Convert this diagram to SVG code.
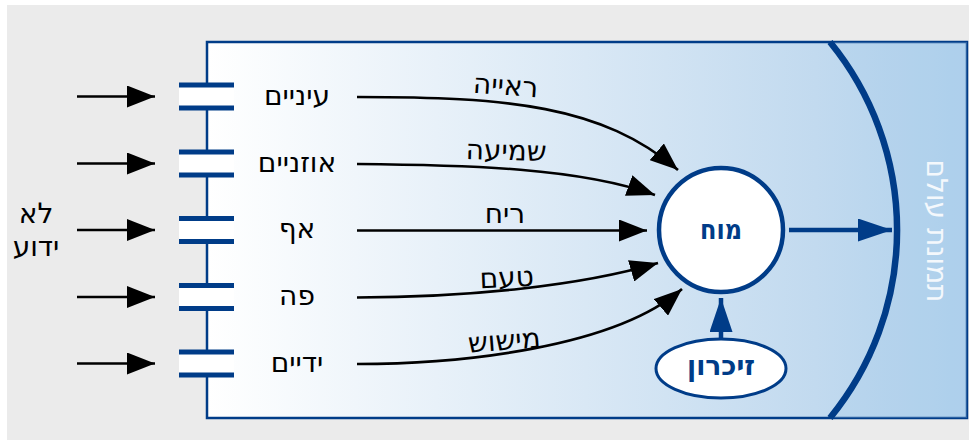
<svg xmlns="http://www.w3.org/2000/svg" width="969" height="441" viewBox="0 0 969 441">
<defs>
<style>
.lbl{font-family:"DejaVu Sans",sans-serif;font-size:28px;fill:#000;text-anchor:middle}
.blbl{font-family:"DejaVu Sans",sans-serif;font-size:28px;font-weight:bold;fill:#003c88;text-anchor:middle}
.bar{stroke:#003c88;stroke-width:5}
.ln{fill:none;stroke:#000;stroke-width:2.6}
.bl{fill:none;stroke:#003c88;stroke-width:4.5}
</style>
<linearGradient id="bg" gradientUnits="userSpaceOnUse" x1="207" y1="0" x2="967" y2="0">
<stop offset="0" stop-color="#ffffff"/>
<stop offset="0.8" stop-color="#c2daef"/>
<stop offset="1" stop-color="#afd1ec"/>
</linearGradient>
<marker id="ah" markerUnits="userSpaceOnUse" markerWidth="28" markerHeight="22" refX="28" refY="11" orient="auto">
<path d="M0,0 L28,11 L0,22 z" fill="#000"/>
</marker>
<marker id="bh" markerUnits="userSpaceOnUse" markerWidth="34" markerHeight="23" refX="34" refY="11.5" orient="auto">
<path d="M0,0 L34,11.5 L0,23 z" fill="#003c88"/>
</marker>
</defs>
<rect x="7" y="5" width="962" height="435" fill="#ebebeb"/>
<g id="frame">
<rect x="207" y="42" width="760" height="376" fill="url(#bg)" stroke="#003c88" stroke-width="2.5"/>
<path d="M830,42 A297,297 0 0 1 830,418 L967,418 L967,42 z" fill="#a9cdea" opacity="0.25"/>
<path d="M830,42 A297,297 0 0 1 830,418" fill="none" stroke="#003c88" stroke-width="6.5"/>
<text transform="translate(927,231) rotate(90)" font-family="DejaVu Sans, sans-serif" font-size="29" fill="#f4f8fc" text-anchor="middle" textLength="143" lengthAdjust="spacingAndGlyphs">תמונת עולם</text>
</g>
<g id="gates">
<g id="gate1"><rect x="179" y="85" width="55" height="23" fill="#fff"/><line class="bar" x1="179" y1="85" x2="234" y2="85"/><line class="bar" x1="179" y1="108" x2="234" y2="108"/></g>
<g id="gate2"><rect x="179" y="152" width="55" height="23" fill="#fff"/><line class="bar" x1="179" y1="152" x2="234" y2="152"/><line class="bar" x1="179" y1="175" x2="234" y2="175"/></g>
<g id="gate3"><rect x="179" y="218.5" width="55" height="23" fill="#fff"/><line class="bar" x1="179" y1="218.5" x2="234" y2="218.5"/><line class="bar" x1="179" y1="241.5" x2="234" y2="241.5"/></g>
<g id="gate4"><rect x="179" y="285.5" width="55" height="23" fill="#fff"/><line class="bar" x1="179" y1="285.5" x2="234" y2="285.5"/><line class="bar" x1="179" y1="308.5" x2="234" y2="308.5"/></g>
<g id="gate5"><rect x="179" y="352" width="55" height="23" fill="#fff"/><line class="bar" x1="179" y1="352" x2="234" y2="352"/><line class="bar" x1="179" y1="375" x2="234" y2="375"/></g>
</g>
<g id="unknown"><text class="lbl" x="36" y="223">לא</text><text class="lbl" x="36" y="256">ידוע</text></g>
<g id="eyes"><text class="lbl" x="297" y="105">עיניים</text></g>
<g id="ears"><text class="lbl" x="297" y="172">אוזניים</text></g>
<g id="nose"><text class="lbl" x="297" y="238">אף</text></g>
<g id="mouth"><text class="lbl" x="297" y="305">פה</text></g>
<g id="hands"><text class="lbl" x="297" y="372">ידיים</text></g>
<g id="connectors">
<line class="ln" x1="77" y1="96.5" x2="155" y2="96.5" marker-end="url(#ah)"/>
<line class="ln" x1="77" y1="163.5" x2="155" y2="163.5" marker-end="url(#ah)"/>
<line class="ln" x1="77" y1="230" x2="155" y2="230" marker-end="url(#ah)"/>
<line class="ln" x1="77" y1="297" x2="155" y2="297" marker-end="url(#ah)"/>
<line class="ln" x1="77" y1="363.5" x2="155" y2="363.5" marker-end="url(#ah)"/>
<path class="ln" d="M357,97 C507,97 602,105 678,170" marker-end="url(#ah)"/>
<path class="ln" d="M357,164 C470,165 580,168 655,195" marker-end="url(#ah)"/>
<path class="ln" d="M357,230.5 L647,230.5" marker-end="url(#ah)"/>
<path class="ln" d="M357,297.5 C470,297 580,286 658,263" marker-end="url(#ah)"/>
<path class="ln" d="M357,364 C460,364 614,348 682,289" marker-end="url(#ah)"/>
<line class="bl" x1="789" y1="230" x2="892" y2="230" marker-end="url(#bh)"/>
<line class="bl" x1="721" y1="340" x2="721" y2="298" marker-end="url(#bh)"/>
</g>
<g id="sense-labels">
<text class="lbl" transform="translate(505,95) rotate(4)">ראייה</text>
<text class="lbl" transform="translate(506,160) rotate(1.5)">שמיעה</text>
<text class="lbl" x="505" y="223">ריח</text>
<text class="lbl" transform="translate(507,287) rotate(-2.5)">טעם</text>
<text class="lbl" transform="translate(505,350) rotate(-4.5)">מישוש</text>
</g>
<g id="brain">
<circle cx="721" cy="230" r="62" fill="#fff" stroke="#003c88" stroke-width="4.5"/>
<text class="blbl" x="721" y="239" textLength="42" lengthAdjust="spacingAndGlyphs">מוח</text>
</g>
<g id="memory">
<ellipse cx="721" cy="368.5" rx="65" ry="29.5" fill="#fff" stroke="#003c88" stroke-width="3"/>
<text class="blbl" x="721" y="375" font-size="25" textLength="68" lengthAdjust="spacingAndGlyphs">זיכרון</text>
</g>
</svg>
